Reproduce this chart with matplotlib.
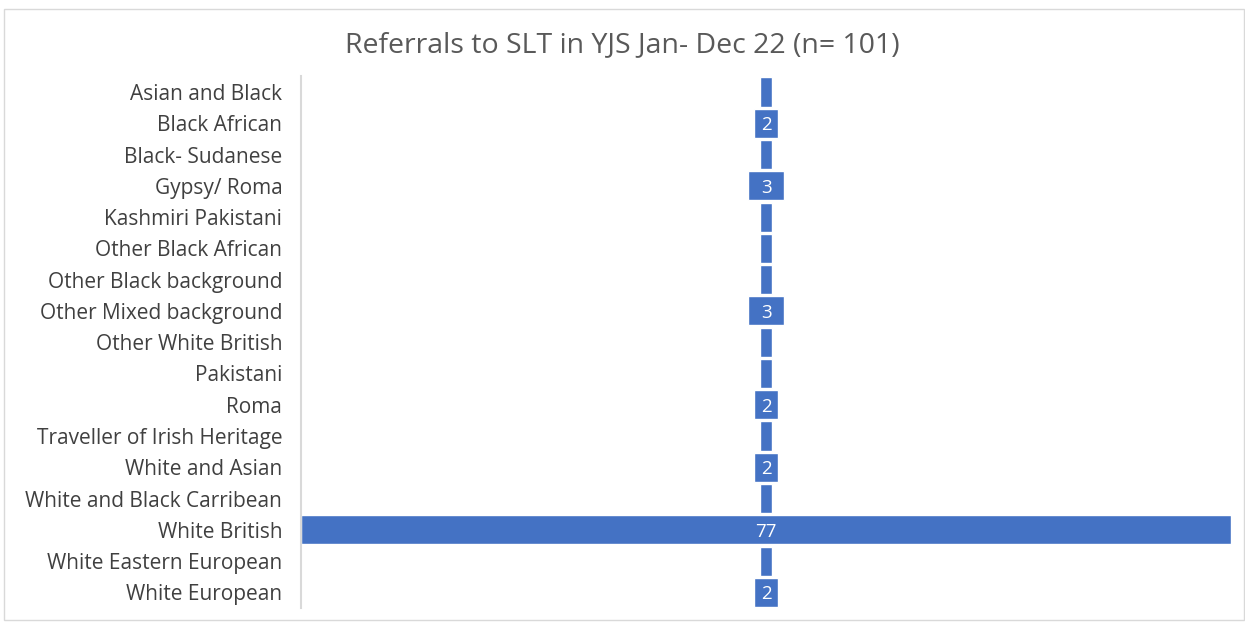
import matplotlib.pyplot as plt
from matplotlib.patches import Rectangle

categories = ["Asian and Black", "Black African", "Black- Sudanese", "Gypsy/ Roma",
              "Kashmiri Pakistani", "Other Black African", "Other Black background",
              "Other Mixed background", "Other White British", "Pakistani", "Roma",
              "Traveller of Irish Heritage", "White and Asian", "White and Black Carribean",
              "White British", "White Eastern European", "White European"]
counts = [1, 2, 1, 3, 1, 1, 1, 3, 1, 1, 2, 1, 2, 1, 77, 1, 2]

plt.rcParams['font.family'] = ['Open Sans', 'DejaVu Sans']

fig = plt.figure(figsize=(12.45, 6.24), dpi=100)
ax = fig.add_axes([0.2418, 0.0256, 0.747, 0.852])

y = range(len(categories))
left = [-c / 2 for c in counts]
bars = ax.barh(y, counts, left=left, height=0.93, color="#4472c4",
               edgecolor="white", linewidth=1)
for i, c in enumerate(counts):
    if c > 1:
        ax.text(0, i, str(c), ha="center", va="center_baseline", color="white", fontsize=13.5)

ax.set_xlim(-38.5, 38.5)
ax.set_ylim(len(categories) - 0.5, -0.5)
ax.set_yticks(list(y))
ax.set_yticklabels(categories, fontsize=15, color="#404040")
ax.tick_params(axis="y", length=0, pad=13.5)
ax.set_xticks([])
for s in ["top", "right", "bottom"]:
    ax.spines[s].set_visible(False)
ax.spines["left"].set_color("#d9d9d9")
ax.spines["left"].set_linewidth(1.5)

fig.text(0.5, 0.928, "Referrals to SLT in YJS Jan- Dec 22 (n= 101)", ha="center",
         va="center", fontsize=20.5, color="#595959")
fig.patches.append(Rectangle((0.003, 0.006), 0.996, 0.979, transform=fig.transFigure,
                             fill=False, edgecolor="#d9d9d9", linewidth=1))

fig.savefig("out.png", dpi=100)
